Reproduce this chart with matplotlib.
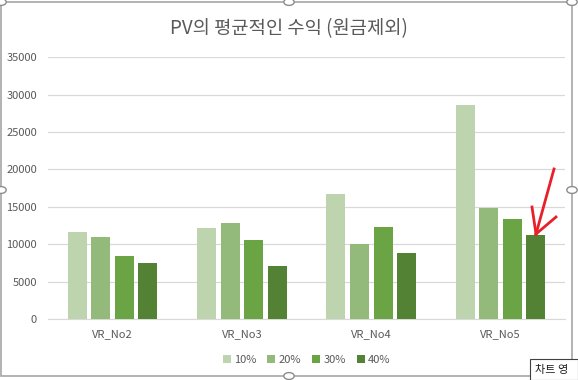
import matplotlib.pyplot as plt
import numpy as np
from matplotlib.patches import Circle, Rectangle

plt.rcParams['font.family'] = ['Noto Sans CJK KR', 'DejaVu Sans']

categories = ['VR_No2', 'VR_No3', 'VR_No4', 'VR_No5']
series = ['10%', '20%', '30%', '40%']
v10 = [11600, 12200, 16700, 28600]
v20 = [11000, 12800, 10000, 14850]
v30 = [8400, 10600, 12300, 13350]
v40 = [7500, 7100, 8800, 11200]
colors = ['#BDD4AE', '#93BA7B', '#6AA444', '#548235']

fig = plt.figure(figsize=(5.78, 3.80), dpi=100)
ax = fig.add_axes([0.083, 0.1605, 0.895, 0.689])

x = np.arange(len(categories))
step = 0.182
width = 0.147
for i, (vals, name) in enumerate(zip([v10, v20, v30, v40], series)):
    ax.bar(x + (i - 1.5) * step, vals, width, color=colors[i], label=name, zorder=3)

ax.set_xlim(-0.5, 3.5)
ax.set_ylim(0, 35000)
ax.set_yticks(range(0, 35001, 5000))
ax.yaxis.grid(True, color='#D9D9D9', linewidth=0.9, zorder=0)
for s in ['top', 'right', 'left']:
    ax.spines[s].set_visible(False)
ax.spines['bottom'].set_color('#D9D9D9')
ax.tick_params(length=0, labelsize=8, labelcolor='#595959')
ax.tick_params(axis='y', pad=8)
ax.tick_params(axis='x', pad=7)
ax.set_xticks(x)
ax.set_xticklabels(categories)

fig.text(0.5, 0.925, 'PV의 평균적인 수익 (원금제외)', ha='center', va='center',
         fontsize=13.5, color='#595959')

ax.legend(loc='upper center', bbox_to_anchor=(0.5, -0.1), ncol=4, frameon=False,
          fontsize=8, labelcolor='#595959', handlelength=0.7, handleheight=0.7,
          handletextpad=0.3, columnspacing=1.0)

# chart frame and selection handles
W, H = 578.0, 380.0
def fx(px):
    return px / W
def fy(py):
    return 1 - py / H
fig.patches.append(Rectangle((fx(1), fy(376)), fx(572) - fx(1), fy(2) - fy(376),
                             transform=fig.transFigure, fill=False,
                             edgecolor='#A6A6A6', linewidth=1.2))
for hx, hy in [(1, 2), (289, 2), (572, 2), (1, 190), (572, 190), (289, 376)]:
    fig.patches.append(Circle((fx(hx), fy(hy)), 0.009, transform=fig.transFigure,
                              facecolor='white', edgecolor='#8C8C8C', linewidth=1.0))

# red arrow annotation
red = '#E8202A'
fig.add_artist(plt.Line2D([fx(554), fx(536)], [fy(169), fy(234)], color=red, lw=2))
fig.add_artist(plt.Line2D([fx(532), fx(536)], [fy(207), fy(234)], color=red, lw=2))
fig.add_artist(plt.Line2D([fx(556), fx(536)], [fy(217), fy(234)], color=red, lw=2))

# tooltip
fig.patches.append(Rectangle((fx(530), fy(380)), fx(578) - fx(530), fy(359) - fy(380),
                             transform=fig.transFigure, facecolor='white',
                             edgecolor='#404040', linewidth=0.8))
fig.text(fx(535), fy(370), '차트 영', fontsize=8, color='#202020', va='center')

fig.savefig('out.png', dpi=100)
